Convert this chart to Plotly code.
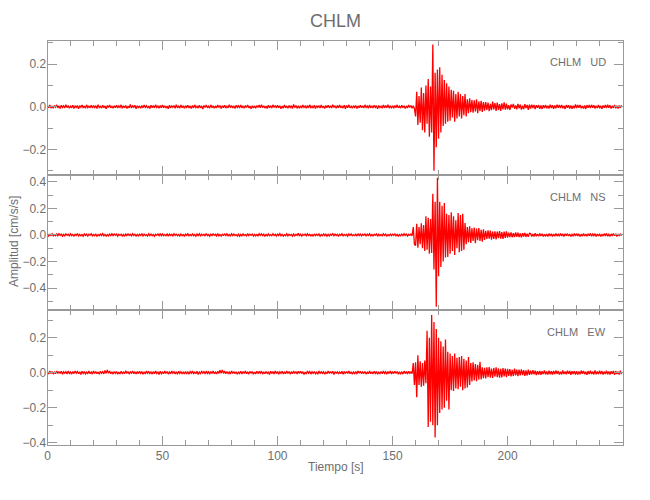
import numpy as np
import plotly.graph_objects as go

# Sampling interval of the traces (s) and amplitude unit (values in 0.001 cm/s/s)
dt = 0.5
unit = 0.001

station = "CHLM"
components = ["UD", "NS", "EW"]
x_ticks = [0, 50, 100, 150, 200]

ud_vals = [
    5,-4,8,-6,3,-7,6,-2,9,-5,4,-8,7,-3,5,-6,10,-4,6,-7,
    3,-5,7,-8,4,-3,6,-9,5,-2,8,-6,4,-7,9,-4,3,-5,7,-6,
    6,-3,5,-8,10,-4,2,-6,7,-5,4,-9,6,-3,8,-5,3,-7,5,-4,
    7,-6,4,-3,9,-7,5,-4,6,-8,3,-5,11,-6,4,-3,7,-9,5,-4,
    4,-7,6,-5,8,-3,5,-6,3,-8,7,-4,6,-5,9,-3,4,-7,6,-5,
    8,-4,5,-6,3,-9,7,-5,4,-3,6,-7,10,-5,3,-6,8,-4,5,-7,
    5,-3,7,-6,4,-8,6,-5,9,-4,3,-6,7,-5,4,-10,6,-3,8,-5,
    3,-6,9,-4,5,-7,4,-5,8,-3,6,-8,5,-4,7,-6,3,-5,10,-4,
    6,-5,4,-8,7,-3,5,-6,9,-5,4,-7,6,-3,8,-5,3,-9,5,-6,
    4,-7,6,-3,8,-5,10,-4,5,-6,3,-8,7,-5,4,-6,9,-3,6,-5,
    7,-4,5,-9,3,-6,8,-5,4,-7,6,-3,5,-8,11,-4,6,-5,3,-7,
    5,-6,8,-3,4,-7,6,-5,9,-4,3,-6,7,-8,5,-3,4,-6,8,-5,
    3,-8,6,-4,7,-5,4,-6,10,-3,5,-7,6,-4,8,-5,3,-6,7,-9,
    6,-4,9,-5,3,-7,5,-3,6,-8,4,-5,7,-4,5,-6,9,-3,4,-7,
    8,-5,4,-6,7,-3,5,-9,6,-4,3,-7,8,-5,6,-4,10,-6,3,-5,
    5,-7,6,-4,9,-5,3,-6,7,-4,5,-8,4,-6,8,-3,6,-7,5,-9,
    -45,70,-85,50,-75,90,-110,65,-120,100,-80,130,-140,95,-120,292,-300,160,-190,175,
    -150,185,-120,150,-90,125,-80,110,-70,95,-65,80,-50,75,-70,60,-55,70,-45,60,
    -55,50,-40,60,-45,35,-30,40,-25,32,-28,30,-22,35,-30,25,-20,28,-24,22,
    -18,22,-15,20,-21,14,-16,24,-12,17,-19,20,-15,13,-19,16,-12,21,-13,15,
    -12,8,-14,11,-4,13,-9,6,-12,14,-7,10,-13,5,-11,12,-6,9,-14,10,
    -8,10,-6,9,-11,7,-5,8,-9,6,-10,7,-6,9,-7,5,-8,10,-6,7,
    -9,6,-7,10,-5,8,-6,9,-7,5,-10,8,-4,7,-8,6,-9,5,-7,11,
    -6,8,-5,9,-7,4,-8,6,-10,7,-5,8,-6,9,-4,7,-8,5,-6,9,
    -7,5,-9,6,-4,8,-6,10,-5,7,-8,4,-6,9,-7,5,-8,6,-5,7,
]

ns_vals = [
    6,-8,5,-4,9,-7,3,-6,8,-5,10,-4,6,-9,4,-7,8,-3,5,-6,
    9,-5,4,-8,6,-3,11,-7,5,-6,3,-9,7,-4,6,-8,5,-3,9,-6,
    4,-6,8,-9,3,-5,7,-4,10,-6,5,-8,3,-7,6,-5,9,-4,7,-3,
    7,-9,5,-3,6,-8,4,-10,7,-5,8,-4,5,-6,9,-3,6,-8,4,-7,
    5,-4,10,-7,6,-5,3,-8,9,-4,7,-6,4,-9,5,-3,8,-6,10,-5,
    8,-6,3,-5,7,-9,6,-4,5,-7,9,-3,6,-5,4,-8,7,-6,3,-9,
    6,-3,9,-7,4,-6,8,-5,3,-10,7,-4,9,-6,5,-3,6,-8,11,-5,
    4,-9,6,-5,8,-3,5,-7,10,-6,4,-8,6,-3,7,-5,9,-6,4,-7,
    9,-5,7,-4,3,-8,6,-9,5,-6,8,-4,3,-7,10,-5,6,-3,7,-8,
    5,-7,4,-6,9,-3,8,-5,6,-10,4,-7,8,-5,3,-6,9,-4,5,-8,
    7,-4,10,-6,5,-8,3,-5,9,-7,6,-3,4,-9,7,-6,5,-4,12,-7,
    6,-8,5,-3,7,-6,9,-4,5,-7,3,-10,8,-5,6,-4,7,-9,4,-6,
    8,-5,6,-9,4,-7,5,-3,10,-6,7,-4,5,-8,6,-3,9,-7,4,-5,
    5,-9,7,-4,8,-6,3,-5,6,-8,10,-4,7,-6,5,-3,8,-9,6,-4,
    9,-6,4,-7,5,-3,8,-10,6,-5,4,-7,9,-4,6,-8,3,-6,7,-5,
    6,-4,8,-7,5,-9,3,-6,7,-5,9,-4,6,-8,5,-3,7,-6,60,-70,
    -80,85,-95,60,-70,88,-100,75,-120,140,-110,130,-140,120,-135,310,-260,250,-540,430,
    -310,250,-240,220,-200,240,-170,160,-165,150,-140,170,-120,140,-150,110,-100,165,-130,150,
    -120,160,-110,90,-70,60,-55,65,-60,50,-45,55,-62,48,-40,52,-45,38,-50,42,
    -38,32,-30,35,-28,33,-36,25,-30,28,-33,26,-24,30,-27,22,-29,25,-21,27,
    -20,17,-15,19,-18,14,-16,20,-13,17,-15,12,-18,14,-11,16,-13,10,-14,12,
    10,-12,8,-11,13,-9,7,-10,12,-8,9,-11,6,-10,8,-12,10,-7,9,-11,
    7,-10,12,-8,6,-9,11,-7,8,-12,9,-6,10,-8,7,-11,5,-9,12,-8,
    10,-7,8,-12,6,-9,11,-8,7,-10,9,-6,12,-9,8,-5,10,-11,7,-8,
    9,-11,6,-8,10,-7,12,-9,5,-10,8,-7,11,-6,9,-12,7,-8,10,-6,
]

ew_vals = [
    5,-7,9,-4,6,-8,3,-6,10,-5,7,-4,8,-9,5,-3,6,-7,9,-5,
    4,-8,6,-5,9,-3,7,-6,5,-10,8,-4,6,-7,3,-5,9,-6,4,-8,
    10,-5,7,-6,4,-9,8,-3,6,-7,12,-4,15,-3,9,-6,5,-8,7,-4,
    6,-9,4,-7,8,-5,3,-6,11,-4,7,-8,5,-3,9,-6,4,-7,6,-5,
    8,-4,6,-9,5,-7,10,-3,6,-5,4,-8,7,-6,9,-4,5,-10,8,-6,
    3,-6,9,-5,7,-8,4,-6,10,-3,6,-7,5,-9,8,-4,6,-5,3,-7,
    7,-5,4,-8,6,-3,9,-7,5,-6,8,-10,4,-5,7,-3,6,-8,9,-4,
    5,-8,6,-4,10,-6,3,-7,8,-5,14,-3,16,-4,9,-6,7,-5,4,-8,
    9,-4,7,-6,5,-9,3,-5,8,-7,6,-4,10,-6,5,-8,7,-3,6,-9,
    4,-7,8,-5,6,-3,9,-8,5,-6,7,-4,3,-10,8,-5,6,-7,9,-4,
    6,-9,5,-4,8,-7,3,-6,10,-5,7,-8,4,-6,9,-3,5,-7,8,-5,
    8,-5,6,-10,4,-7,9,-3,6,-8,5,-4,7,-6,3,-9,10,-5,6,-4,
    5,-8,3,-6,9,-5,7,-4,8,-10,6,-3,5,-7,4,-6,8,-9,6,-5,
    7,-4,10,-6,5,-8,4,-5,6,-7,9,-3,8,-6,5,-4,7,-8,3,-6,
    9,-6,5,-7,8,-4,6,-9,3,-5,7,-6,10,-4,5,-8,6,-5,9,-7,
    6,-5,8,-4,7,-9,5,-6,4,-8,9,-5,6,-7,8,-4,5,-6,55,-70,
    60,-140,100,-70,65,-80,55,-75,70,-60,240,-310,200,-280,330,-300,290,-370,250,-300,
    200,-230,180,-210,150,-200,190,-160,120,-210,110,-100,95,-105,110,-90,85,-95,90,-80,
    95,-100,80,-90,70,-85,90,-70,55,-50,60,-45,50,-48,45,-40,62,-38,30,-32,
    28,-33,30,-25,32,-28,24,-30,27,-22,31,-26,25,-29,22,-27,26,-21,24,-25,
    22,-18,20,-21,16,-19,23,-15,18,-20,17,-16,19,-14,15,-18,13,-16,17,-12,
    12,-10,14,-9,11,-13,8,-11,10,-12,9,-8,13,-10,7,-11,12,-9,8,-10,
    10,-8,12,-7,9,-11,6,-10,13,-8,7,-9,11,-6,10,-12,8,-7,9,-11,
    8,-11,7,-9,12,-6,10,-8,5,-12,9,-7,11,-8,6,-10,13,-9,7,-8,
    11,-7,9,-10,6,-8,12,-9,7,-11,8,-6,10,-12,9,-7,6,-10,11,-8,
]

y_ranges = [[-0.32, 0.31], [-0.564, 0.451], [-0.413, 0.358]]

# ---------------- figure ----------------
W, H = 650, 500
px_left, px_right = 47.5, 623.3
panel_px = [(40.7, 175.0), (175.0, 310.0), (310.0, 445.0)]

AXC = "#999999"
TXC = "#6e6e6e"
FONT = "Liberation Sans Narrow, Liberation Sans, Arial, sans-serif"

fig = go.Figure()
series = [ud_vals, ns_vals, ew_vals]
for i, vals in enumerate(series):
    v = np.asarray(vals, dtype=float) * unit
    t = np.arange(len(v)) * dt
    sfx = "" if i == 0 else str(i + 1)
    fig.add_trace(go.Scatter(
        x=t, y=v, mode="lines",
        line=dict(color="#ff0000", width=1.3),
        xaxis="x" + sfx, yaxis="y" + sfx,
        showlegend=False, hoverinfo="skip",
    ))

xdom = [px_left / W, px_right / W]
layout = dict(
    width=W, height=H,
    margin=dict(l=0, r=0, t=0, b=0),
    paper_bgcolor="white", plot_bgcolor="white",
    font=dict(family=FONT, color=TXC, size=12),
    showlegend=False,
)
for i in range(3):
    sfx = "" if i == 0 else str(i + 1)
    top, bot = panel_px[i]
    ydom = [(H - bot) / H, (H - top) / H]
    layout["xaxis" + sfx] = dict(
        domain=xdom, anchor="y" + sfx, range=[0, 250.3],
        tickmode="array", tickvals=x_ticks,
        ticktext=[str(v) for v in x_ticks],
        showticklabels=(i == 2), automargin=False,
        ticks="inside", ticklen=9, tickwidth=1, tickcolor=AXC,
        minor=dict(dtick=10, tick0=0, ticks="inside", ticklen=5, tickcolor=AXC, tickwidth=1),
        showline=True, linecolor=AXC, linewidth=1, mirror="ticks",
        showgrid=False, zeroline=False,
        tickfont=dict(size=12, color=TXC, family=FONT),
        **({} if i == 0 else {"matches": "x"}),
    )
    layout["yaxis" + sfx] = dict(
        domain=ydom, anchor="x" + sfx, range=y_ranges[i],
        dtick=0.2, tick0=0, tickformat=".1f", automargin=False,
        ticks="inside", ticklen=9, tickwidth=1, tickcolor=AXC,
        minor=dict(dtick=0.1, tick0=0, ticks="inside", ticklen=5, tickcolor=AXC, tickwidth=1),
        showline=True, linecolor=AXC, linewidth=1, mirror="ticks",
        showgrid=False, zeroline=False,
        tickfont=dict(size=12, color=TXC, family=FONT),
        ticklabelstandoff=-2,
    )
fig.update_layout(**layout)

annotations = []
for i, comp in enumerate(components):
    sfx = "" if i == 0 else str(i + 1)
    annotations.append(dict(
        text=f"{station}&nbsp;&nbsp;&nbsp;{comp}",
        xref=f"x{sfx} domain", yref=f"y{sfx} domain",
        x=0.974, y=0.84, xanchor="right", yanchor="middle",
        showarrow=False, font=dict(size=11, color=TXC, family=FONT),
    ))
annotations.append(dict(
    text=station, xref="paper", yref="paper",
    x=(px_left + px_right) / 2 / W, y=(H - 21) / H,
    xanchor="center", yanchor="middle", showarrow=False,
    font=dict(size=18, color=TXC, family=FONT),
))
annotations.append(dict(
    text="Tiempo [s]", xref="paper", yref="paper",
    x=336 / W, y=(H - 467) / H, xanchor="center", yanchor="middle",
    showarrow=False, font=dict(size=12, color=TXC, family=FONT),
))
annotations.append(dict(
    text="Amplitud [cm/s/s]", xref="paper", yref="paper",
    x=14 / W, y=(H - 242) / H, xanchor="center", yanchor="middle",
    textangle=-90, showarrow=False, font=dict(size=12, color=TXC, family=FONT),
))
fig.update_layout(annotations=annotations)

fig.write_html(
    "out.html",
    config={"displayModeBar": False},
    post_script="document.body.style.margin='0';document.body.style.padding='0';",
)
